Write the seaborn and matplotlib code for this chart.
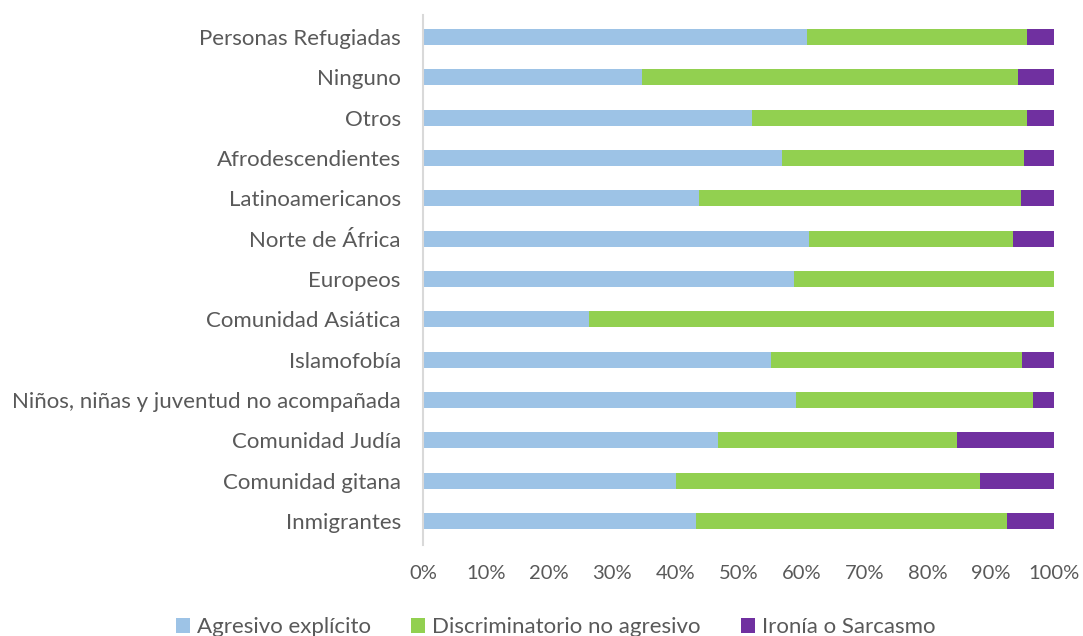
import numpy as np
import pandas as pd
import matplotlib
matplotlib.use("Agg")
import matplotlib.pyplot as plt
from matplotlib.patches import Patch
import seaborn as sns

categories = ["Personas Refugiadas", "Ninguno", "Otros", "Afrodescendientes",
              "Latinoamericanos", "Norte de África", "Europeos", "Comunidad Asiática",
              "Islamofobía", "Niños, niñas y juventud no acompañada", "Comunidad Judía",
              "Comunidad gitana", "Inmigrantes"]
agresivo = [60.8, 34.7, 52.1, 56.9, 43.8, 61.2, 58.8, 26.3, 55.1, 59.1, 46.8, 40.1, 43.2]
discriminatorio = [34.9, 59.6, 43.6, 38.4, 50.9, 32.3, 41.2, 73.7, 39.9, 37.5, 37.9, 48.1, 49.4]
ironia = [4.3, 5.7, 4.3, 4.7, 5.3, 6.5, 0.0, 0.0, 5.0, 3.4, 15.3, 11.8, 7.4]
series_names = ["Agresivo explícito", "Discriminatorio no agresivo", "Ironía o Sarcasmo"]
xticks = [0, 10, 20, 30, 40, 50, 60, 70, 80, 90, 100]

colors = ["#9DC3E6", "#92D050", "#7030A0"]

sns.set_theme(style="white")
plt.rcParams["font.family"] = ["Lato", "DejaVu Sans"]

df = pd.DataFrame({"cat": categories, "a": agresivo, "d": discriminatorio, "i": ironia})
df["c1"] = df["a"]
df["c2"] = df["a"] + df["d"]
df["c3"] = df["a"] + df["d"] + df["i"]

fig = plt.figure(figsize=(10.83, 6.36), dpi=100)
ax = fig.add_axes([0.3906, 0.1490, 0.5826, 0.8246])

for col, c in zip(["c3", "c2", "c1"], colors[::-1]):
    sns.barplot(data=df, x=col, y="cat", color=c, width=0.40, ax=ax,
                saturation=1, linewidth=0, orient="h")

ax.set_xlim(0, 100)
ax.set_ylim(12.5, -0.5)
ax.set_xticks(xticks)
ax.set_xticklabels([f"{t}%" for t in xticks])
ax.set_xlabel("")
ax.set_ylabel("")
ax.tick_params(axis="x", length=0, pad=17, labelsize=14.5, colors="#595959")
ax.tick_params(axis="y", length=0, pad=16, labelsize=16, colors="#595959")
for s in ["top", "right", "bottom"]:
    ax.spines[s].set_visible(False)
ax.spines["left"].set_color("#D9D9D9")
ax.spines["left"].set_linewidth(1.5)
ax.spines["left"].set_bounds(12.6, -0.55)
ax.grid(False)

handles = [Patch(facecolor=c, edgecolor="none") for c in colors]
fig.legend(handles, series_names, loc="lower center", ncol=3, frameon=False,
           bbox_to_anchor=(0.513, -0.033), fontsize=16, handlelength=0.65, handleheight=0.65,
           handletextpad=0.3, columnspacing=1.8, labelcolor="#595959")

fig.savefig("out.png", dpi=100)
